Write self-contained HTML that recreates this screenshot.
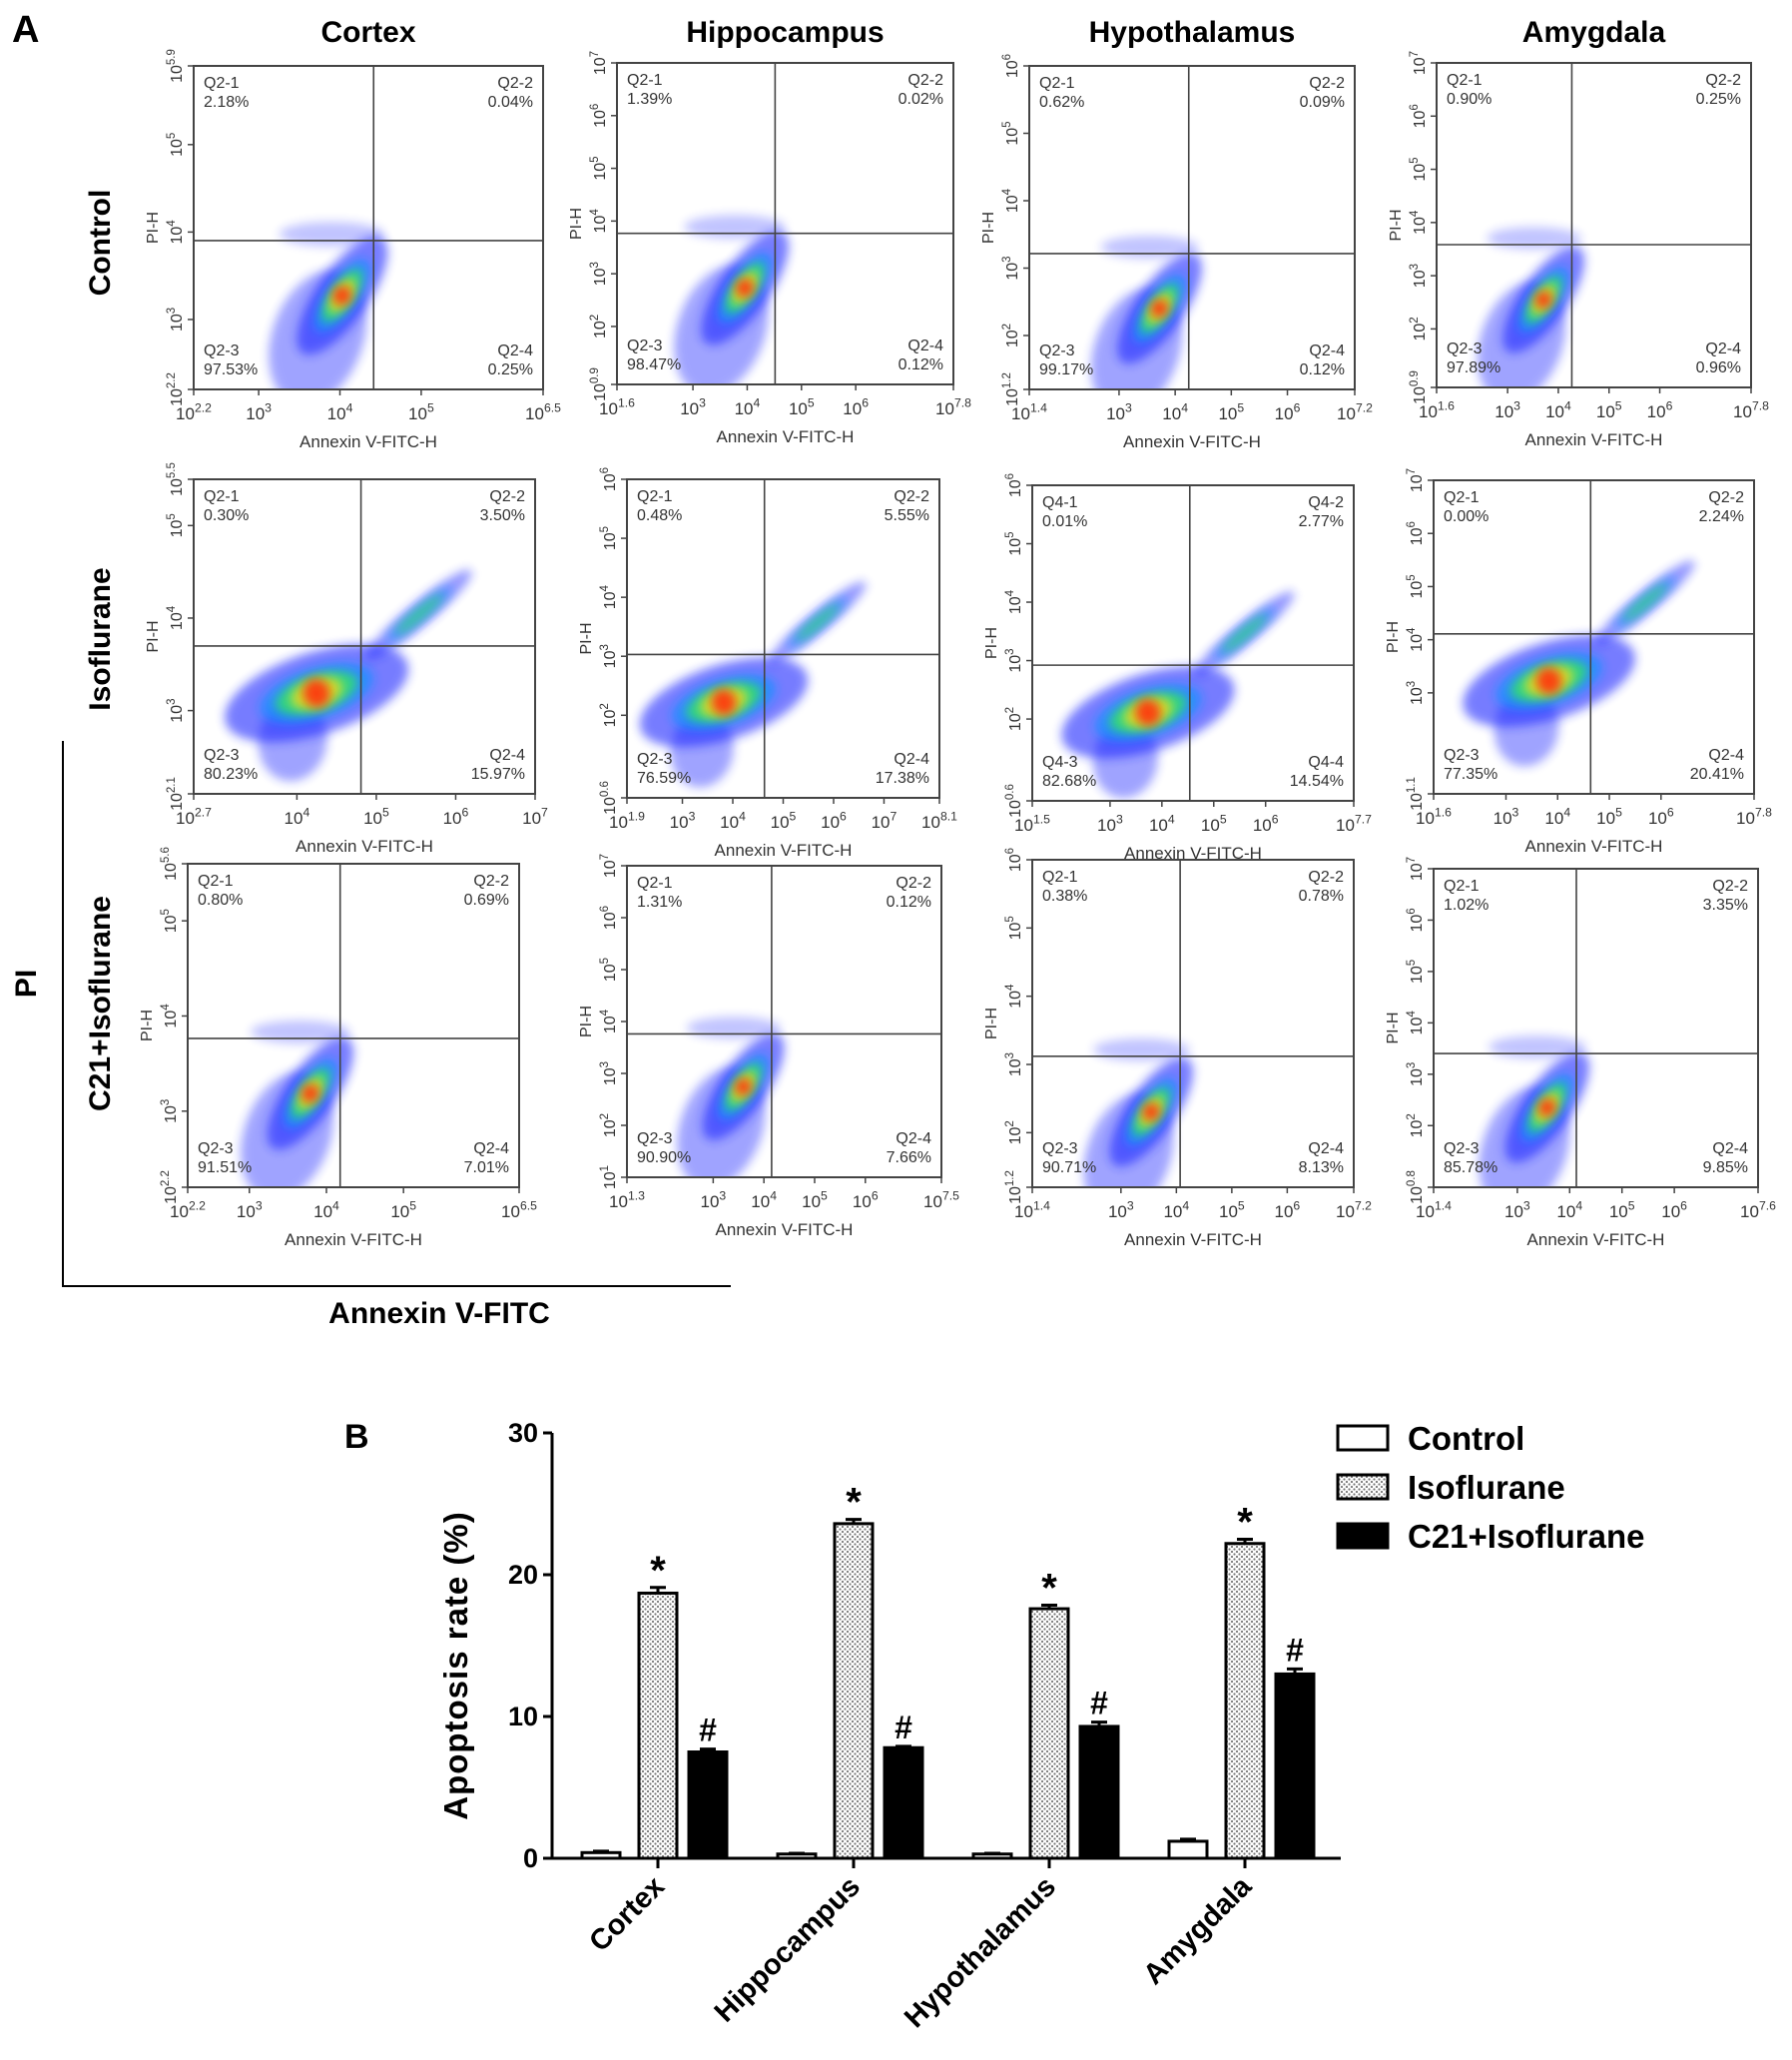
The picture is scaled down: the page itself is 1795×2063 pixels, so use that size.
<!DOCTYPE html>
<html><head><meta charset="utf-8">
<style>
html,body{margin:0;padding:0;background:#fff;}
svg{display:block;font-family:"Liberation Sans",Arial,sans-serif;}
</style></head>
<body>
<svg id="fig" width="1795" height="2063" viewBox="0 0 1795 2063" xmlns="http://www.w3.org/2000/svg">
<defs>
<filter id="blur" x="-50%" y="-50%" width="200%" height="200%"><feGaussianBlur stdDeviation="5"/></filter>
<pattern id="dots" width="5" height="5" patternUnits="userSpaceOnUse"><rect width="5" height="5" fill="#fff"/><circle cx="1.5" cy="1.5" r="1.1" fill="#777"/><circle cx="4" cy="4" r="1.1" fill="#777"/></pattern>
</defs>
<text x="12" y="42" font-size="38" font-weight="bold">A</text>
<g id="panelA"></g>
<g id="panelB"></g>
</svg>
<script>
// ---------- Panel A data ----------
const columnTitles = ["Cortex","Hippocampus","Hypothalamus","Amygdala"];
const rowTitles = ["Control","Isoflurane","C21+Isoflurane"];
const quadLabels = [
 [["Q2-1","Q2-2","Q2-3","Q2-4"],["Q2-1","Q2-2","Q2-3","Q2-4"],["Q2-1","Q2-2","Q2-3","Q2-4"],["Q2-1","Q2-2","Q2-3","Q2-4"]],
 [["Q2-1","Q2-2","Q2-3","Q2-4"],["Q2-1","Q2-2","Q2-3","Q2-4"],["Q4-1","Q4-2","Q4-3","Q4-4"],["Q2-1","Q2-2","Q2-3","Q2-4"]],
 [["Q2-1","Q2-2","Q2-3","Q2-4"],["Q2-1","Q2-2","Q2-3","Q2-4"],["Q2-1","Q2-2","Q2-3","Q2-4"],["Q2-1","Q2-2","Q2-3","Q2-4"]]
];
const quadValues = [
 [["2.18%","0.04%","97.53%","0.25%"],["1.39%","0.02%","98.47%","0.12%"],["0.62%","0.09%","99.17%","0.12%"],["0.90%","0.25%","97.89%","0.96%"]],
 [["0.30%","3.50%","80.23%","15.97%"],["0.48%","5.55%","76.59%","17.38%"],["0.01%","2.77%","82.68%","14.54%"],["0.00%","2.24%","77.35%","20.41%"]],
 [["0.80%","0.69%","91.51%","7.01%"],["1.31%","0.12%","90.90%","7.66%"],["0.38%","0.78%","90.71%","8.13%"],["1.02%","3.35%","85.78%","9.85%"]]
];
const xTickExp = [
 [[2.2,3,4,5,6.5],[1.6,3,4,5,6,7.8],[1.4,3,4,5,6,7.2],[1.6,3,4,5,6,7.8]],
 [[2.7,4,5,6,7],[1.9,3,4,5,6,7,8.1],[1.5,3,4,5,6,7.7],[1.6,3,4,5,6,7.8]],
 [[2.2,3,4,5,6.5],[1.3,3,4,5,6,7.5],[1.4,3,4,5,6,7.2],[1.4,3,4,5,6,7.6]]
];
const yTickExp = [
 [[2.2,3,4,5,5.9],[0.9,2,3,4,5,6,7],[1.2,2,3,4,5,6],[0.9,2,3,4,5,6,7]],
 [[2.1,3,4,5,5.5],[0.6,2,3,4,5,6],[0.6,2,3,4,5,6],[1.1,3,4,5,6,7]],
 [[2.2,3,4,5,5.6],[1,2,3,4,5,6,7],[1.2,2,3,4,5,6],[0.8,2,3,4,5,6,7]]
];
const gateX = [[0.515,0.47,0.49,0.43],[0.49,0.44,0.49,0.49],[0.46,0.46,0.46,0.44]];
const gateY = [[0.54,0.53,0.58,0.56],[0.53,0.55,0.57,0.49],[0.54,0.54,0.60,0.58]];

const boxes = [
 [[194,66,544,390],[618,63,955,385],[1031,66,1357,390],[1439,63,1754,388]],
 [[194,480,536,795],[628,480,941,799],[1034,486,1356,802],[1436,481,1757,795]],
 [[188,865,520,1189],[628,867,943,1179],[1034,861,1356,1189],[1436,870,1761,1189]]
];
const NS="http://www.w3.org/2000/svg";
function mk(tag,attrs,parent){const e=document.createElementNS(NS,tag);for(const k in attrs)e.setAttribute(k,attrs[k]);if(parent)parent.appendChild(e);return e;}
function supText(parent,x,y,exp,size,anchor,rot){
  const t=mk('text',{x:x,y:y,'font-size':size,fill:'#333','text-anchor':anchor||'middle'},parent);
  if(rot)t.setAttribute('transform',rot);
  t.appendChild(document.createTextNode('10'));
  const s=mk('tspan',{dy:-size*0.45,'font-size':size*0.72},t);s.textContent=String(exp);
  return t;
}
const A=document.getElementById('panelA');
columnTitles.forEach((c,i)=>{
  const b=boxes[0][i];
  const t=mk('text',{x:(b[0]+b[2])/2,y:42,'font-size':30,'font-weight':'bold','text-anchor':'middle'},A);
  
  
  t.textContent=c;
});
rowTitles.forEach((r,i)=>{
  const cy=[243,640,1005][i];
  const t=mk('text',{x:0,y:0,'font-size':30,'font-weight':'bold','text-anchor':'middle',transform:`translate(110,${cy}) rotate(-90)`},A);
  
  
  t.textContent=r;
});
const piT=mk('text',{x:0,y:0,'font-size':30,'font-weight':'bold','text-anchor':'middle',transform:'translate(36,985) rotate(-90)'},A);


piT.textContent='PI';
const axL=mk('path',{d:'M63 742 V1288 H732',fill:'none',stroke:'#000','stroke-width':2},A);


const anT=mk('text',{x:440,y:1325,'font-size':30,'font-weight':'bold','text-anchor':'middle'},A);


anT.textContent='Annexin V-FITC';

const layerCols=['#1a28ff','#1890ff','#30e070','#e8e020','#ff3010'];
const layerScale=[1,0.62,0.45,0.28,0.14];
const layerOp=[0.6,0.75,0.85,0.85,0.9];
function blob(g,b,cx,cy,rx,ry,ang,layers,opm){
  const w=b[2]-b[0],h=b[3]-b[1];
  const px=b[0]+cx*w,py=b[1]+cy*h;
  for(let k=0;k<layers;k++){
    const e=mk('ellipse',{cx:px,cy:py,rx:rx*w*layerScale[k],ry:ry*w*Math.max(layerScale[k],0.35),fill:layerCols[k],opacity:layerOp[k]*(opm||1),filter:'url(#blur)',transform:`rotate(${ang} ${px} ${py})`},g);
    
    
  }
}
for(let r=0;r<3;r++)for(let c=0;c<4;c++){
  const b=boxes[r][c],w=b[2]-b[0],h=b[3]-b[1];
  const g=mk('g',{},A);
  
  
  const vx=b[0]+gateX[r][c]*w, hy=b[1]+gateY[r][c]*h;
  const gx=gateX[r][c], gy=gateY[r][c];
  const clip='clip'+r+c;
  const cp=mk('clipPath',{id:clip},g);mk('rect',{x:b[0],y:b[1],width:w,height:h},cp);
  const cg=mk('g',{'clip-path':`url(#${clip})`},g);
  if(r===1){
    blob(cg,b,gx-0.2,gy+0.3,0.12,0.1,-80,1,0.7);
    blob(cg,b,gx-0.13,gy+0.15,0.28,0.12,-18,5,1);
    blob(cg,b,gx+0.17,gy-0.1,0.2,0.035,-40,3,0.8);
  } else {
    blob(cg,b,gx-0.16,gy+0.3,0.2,0.13,-70,1,0.7);
    blob(cg,b,gx-0.09,gy+0.17,0.2,0.075,-55,5,1);
    blob(cg,b,gx-0.12,gy-0.02,0.15,0.035,0,1,0.45);
  }
  const rect=mk('rect',{x:b[0],y:b[1],width:w,height:h,fill:'none',stroke:'#444','stroke-width':2},g);
  
  
  const gl=mk('path',{d:`M${vx} ${b[1]} V${b[3]} M${b[0]} ${hy} H${b[2]}`,stroke:'#444','stroke-width':1.6,fill:'none'},g);
  
  
  const fs=16,pos=[[b[0]+10,b[1]+22,'start'],[b[2]-10,b[1]+22,'end'],[b[0]+10,b[3]-34,'start'],[b[2]-10,b[3]-34,'end']];
  for(let q=0;q<4;q++){
    const t=mk('text',{x:pos[q][0],y:pos[q][1],'font-size':fs,fill:'#333','text-anchor':pos[q][2]},g);
    
    
    t.textContent=quadLabels[r][c][q];
    const v=mk('text',{x:pos[q][0],y:pos[q][1]+19,'font-size':fs,fill:'#333','text-anchor':pos[q][2]},g);
    
    
    v.textContent=quadValues[r][c][q];
  }
  const xe=xTickExp[r][c],xmn=xe[0],xmx=xe[xe.length-1];
  xe.forEach(e=>{
    const x=b[0]+(e-xmn)/(xmx-xmn)*w;
    mk('line',{x1:x,y1:b[3],x2:x,y2:b[3]+6,stroke:'#444','stroke-width':1.5},g);
    const t=supText(g,x,b[3]+30,e,17,'middle');
    
    
  });
  const ye=yTickExp[r][c],ymn=ye[0],ymx=ye[ye.length-1];
  ye.forEach(e=>{
    const y=b[3]-(e-ymn)/(ymx-ymn)*h;
    mk('line',{x1:b[0]-6,y1:y,x2:b[0],y2:y,stroke:'#444','stroke-width':1.5},g);
    const t=supText(g,0,0,e,16,'middle',`translate(${b[0]-12},${y}) rotate(-90)`);
    
    
  });
  const xt=mk('text',{x:b[0]+w*0.5,y:b[3]+58,'font-size':17,fill:'#333','text-anchor':'middle'},g);
  
  
  xt.textContent='Annexin V-FITC-H';
  const yt=mk('text',{x:0,y:0,'font-size':16,fill:'#333','text-anchor':'middle',transform:`translate(${b[0]-36},${b[1]+h*0.5}) rotate(-90)`},g);
  
  
  yt.textContent='PI-H';
}

// ---------- Panel B data ----------
const regions = ["Cortex","Hippocampus","Hypothalamus","Amygdala"];
const seriesNames = ["Control","Isoflurane","C21+Isoflurane"];
const controlVals = [0.4,0.3,0.3,1.2];
const isoVals = [18.7,23.6,17.6,22.2];
const c21Vals = [7.5,7.8,9.3,13.0];
const controlErr = [0.1,0.05,0.05,0.15];
const isoErr = [0.4,0.3,0.25,0.3];
const c21Err = [0.2,0.1,0.3,0.35];
const yTicksB = [0,10,20,30];
const marks = ["","*","#"];

const B=document.getElementById('panelB');
const y0=1861,y30=1435,axX=553,axEnd=1343;
const yS=v=>y0-(v/30)*(y0-y30);
const groupX=g=>583+196*g;
const barOff=[0,57,107],barW=38;
const fills=['#fff','url(#dots)','#000'];
const bl=mk('text',{x:345,y:1450,'font-size':34,'font-weight':'bold'},B);


bl.textContent='B';
const yax=mk('path',{d:`M${axX} ${y30} V${y0} H${axEnd}`,stroke:'#000','stroke-width':3,fill:'none'},B);


yTicksB.forEach(v=>{
  const y=yS(v);
  mk('line',{x1:axX-9,y1:y,x2:axX,y2:y,stroke:'#000','stroke-width':3},B);
  const t=mk('text',{x:axX-14,y:y+9,'font-size':27,'font-weight':'bold','text-anchor':'end'},B);
  
  
  t.textContent=v;
});
const ylab=mk('text',{x:0,y:0,'font-size':33,'font-weight':'bold','text-anchor':'middle','letter-spacing':'1',transform:`translate(468,${(y0+y30)/2+20}) rotate(-90)`},B);


ylab.textContent='Apoptosis rate (%)';
const allVals=[controlVals,isoVals,c21Vals],allErr=[controlErr,isoErr,c21Err];
regions.forEach((reg,gi)=>{
  for(let s=0;s<3;s++){
    const v=allVals[s][gi],e=allErr[s][gi];
    const x=groupX(gi)+barOff[s];
    const r=mk('rect',{x:x,y:yS(v),width:barW,height:y0-yS(v),fill:fills[s],stroke:'#000','stroke-width':3},B);
    
    
    const eb=mk('path',{d:`M${x+barW/2} ${yS(v)} V${yS(v+e)} M${x+barW/2-8} ${yS(v+e)} H${x+barW/2+8}`,stroke:'#000','stroke-width':3},B);
    
    
    if(marks[s]){
      const m=mk('text',{x:x+barW/2,y:yS(v+e)-(s===1?4:8),'font-size':s===1?40:32,'font-weight':'bold','text-anchor':'middle'},B);
      
      
      m.textContent=marks[s];
    }
  }
  const cx=groupX(gi)+barOff[1]+barW/2;
  mk('line',{x1:cx,y1:y0,x2:cx,y2:y0+10,stroke:'#000','stroke-width':3},B);
  const t=mk('text',{x:0,y:0,'font-size':29,'font-weight':'bold','text-anchor':'end',transform:`translate(${cx+8},${y0+30}) rotate(-45)`},B);
  
  
  t.textContent=reg;
});
seriesNames.forEach((n,i)=>{
  const y=1428+i*49;
  const g=mk('g',{},B);
  
  
  mk('rect',{x:1340,y:y,width:50,height:24,fill:fills[i],stroke:'#000','stroke-width':3},g);
  const t=mk('text',{x:1410,y:y+24,'font-size':33,'font-weight':'bold'},g);
  t.textContent=n;
});
</script>
</body></html>
